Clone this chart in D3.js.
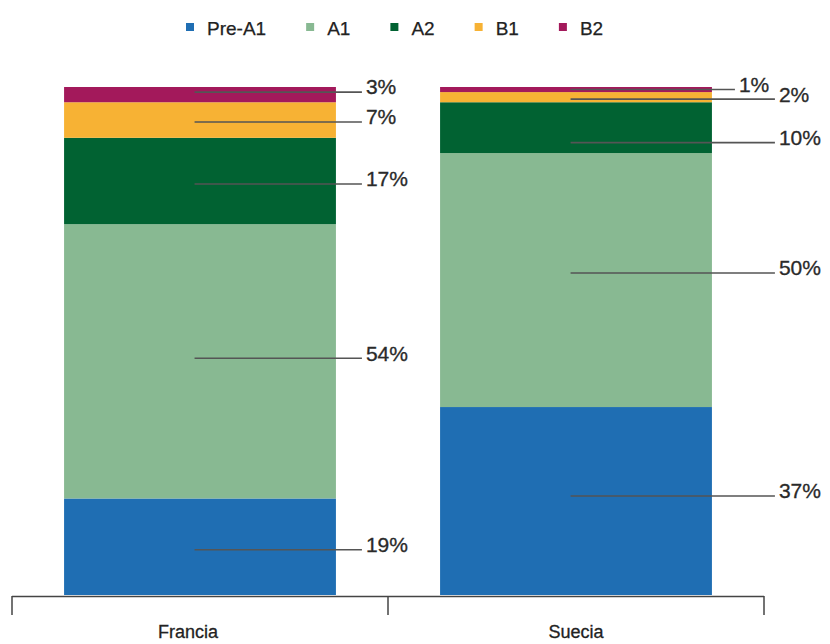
<!DOCTYPE html>
<html>
<head>
<meta charset="utf-8">
<script src="https://cdn.jsdelivr.net/npm/d3@7"></script>
<style>
  body { margin: 0; background: #fff; }
  text { font-family: "Liberation Sans", Arial, sans-serif; }
</style>
</head>
<body>
<div id="plot"></div>
<script>
// data
var countries = ["Francia", "Suecia"];
var levels = ["Pre-A1", "A1", "A2", "B1", "B2"];
var francia = [19, 54, 17, 7, 3];
var suecia = [37, 50, 10, 2, 1];
var colors = ["#1f6eb3", "#88b992", "#016232", "#f7b234", "#a3195b"];

var values = {Francia: francia, Suecia: suecia};

// layout tweaks for the leader lines (px, not data)
var lineEnd = {Francia: 26, Suecia: 63};
var lineNudge = {Francia: [3, -3, 3, 2, -2.5], Suecia: [-5, -7, 15, 2, 0]};

var width = 830, height = 644;

var svg = d3.select("#plot").append("svg")
    .attr("width", width)
    .attr("height", height);

// scales
var x = d3.scaleBand()
    .domain(countries)
    .range([12, 764])
    .paddingInner(0.277)
    .paddingOuter(0.1385);

var y = d3.scaleLinear().domain([0, 100]).range([595, 87]);

// stack the segments
var segs = [];
countries.forEach(function(c) {
  var acc = 0;
  values[c].forEach(function(v, i) {
    segs.push({country: c, level: levels[i], i: i, v: v, y0: acc, y1: acc + v});
    acc += v;
  });
});

svg.selectAll("rect.seg")
    .data(segs)
  .enter().append("rect")
    .attr("class", "seg")
    .attr("x", function(d) { return x(d.country); })
    .attr("width", x.bandwidth())
    .attr("y", function(d) { return y(d.y1); })
    .attr("height", function(d) { return y(d.y0) - y(d.y1); })
    .attr("fill", function(d) { return colors[d.i]; });

// leader lines and labels
svg.selectAll("g.lab")
    .data(segs)
  .enter().append("g")
    .attr("class", "lab")
    .each(function(d) {
      var g = d3.select(this);
      var xs = x(d.country) + x.bandwidth() * 0.48;
      var xe = x(d.country) + x.bandwidth() + lineEnd[d.country];
      var ym = y((d.y0 + d.y1) / 2) + lineNudge[d.country][d.i];
      // the smallest slice gets a shorter line
      if (d.country == "Suecia" && d.level == "B2") xe = x(d.country) + x.bandwidth() + 23;
      g.append("line")
          .attr("x1", xs).attr("x2", xe)
          .attr("y1", ym).attr("y2", ym)
          .attr("stroke", "#555")
          .attr("stroke-width", 1.6);
      g.append("text")
          .attr("x", xe + 4)
          .attr("y", ym - 5)
          .attr("dy", "0.35em")
          .attr("font-size", 21)
          .attr("fill", "#2a2a2a")
          .attr("stroke", "#2a2a2a")
          .attr("stroke-width", 0.3)
          .text(d.v + "%");
    });

// axis with ticks at band edges
var edges = [12, 12 + x.step(), 12 + 2 * x.step()];
svg.append("line")
    .attr("x1", edges[0]).attr("x2", edges[2])
    .attr("y1", 596.5).attr("y2", 596.5)
    .attr("stroke", "#444").attr("stroke-width", 1.5);
svg.selectAll("line.tick")
    .data(edges)
  .enter().append("line")
    .attr("class", "tick")
    .attr("x1", function(d) { return d; }).attr("x2", function(d) { return d; })
    .attr("y1", 596).attr("y2", 615)
    .attr("stroke", "#444").attr("stroke-width", 1.5);

svg.selectAll("text.cat")
    .data(countries)
  .enter().append("text")
    .attr("class", "cat")
    .attr("x", function(d) { return x(d) + x.bandwidth() / 2 - (d == "Francia" ? 12 : 0); })
    .attr("y", 638)
    .attr("text-anchor", "middle")
    .attr("font-size", 18)
    .attr("fill", "#222")
    .attr("stroke", "#222")
    .attr("stroke-width", 0.3)
    .text(function(d) { return d; });

// legend
var legend = svg.append("g");
var lx = 186;
levels.forEach(function(l, i) {
  legend.append("rect")
      .attr("x", lx).attr("y", 23)
      .attr("width", 8).attr("height", 8)
      .attr("fill", colors[i]);
  var t = legend.append("text")
      .attr("x", lx + 21).attr("y", 28)
      .attr("dy", "0.35em")
      .attr("font-size", 19)
      .attr("fill", "#222")
      .attr("stroke", "#222")
      .attr("stroke-width", 0.25)
      .text(l);
  lx += 21 + t.node().getComputedTextLength() + 40;
});
</script>
</body>
</html>
